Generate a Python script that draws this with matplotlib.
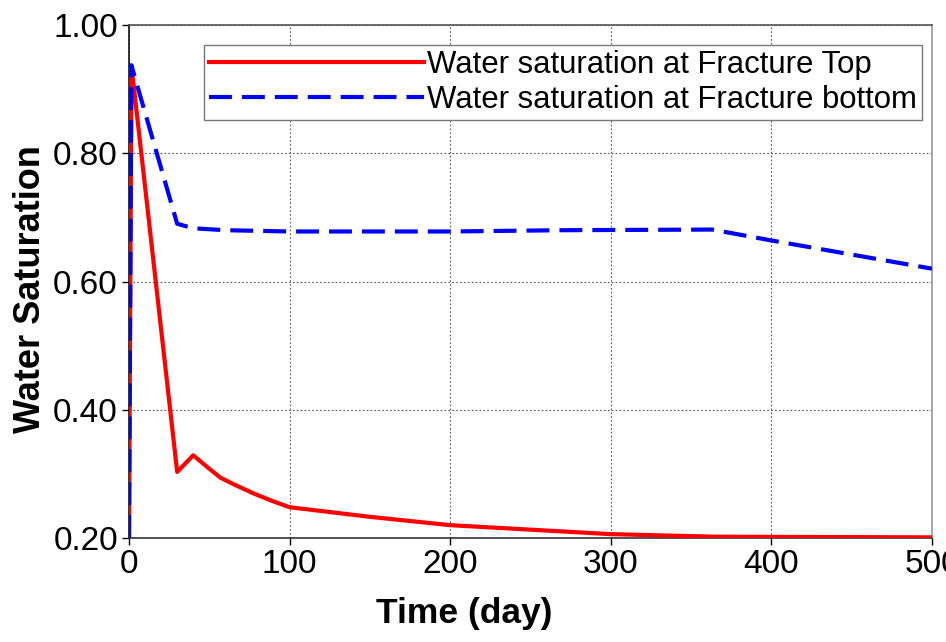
import matplotlib
matplotlib.use('Agg')
import matplotlib.pyplot as plt

# 数据
t_top = [0, 1.5, 30, 40, 50, 57, 65, 78, 90, 100, 150, 200, 300, 365, 500]
sw_top = [0.20, 0.937, 0.303, 0.329, 0.308, 0.294, 0.284, 0.269, 0.257, 0.248,
          0.233, 0.220, 0.206, 0.202, 0.201]

t_bottom = [0, 1.5, 30, 40, 60, 100, 200, 270, 363, 400, 500]
sw_bottom = [0.20, 0.937, 0.690, 0.683, 0.680, 0.678, 0.678, 0.680, 0.681, 0.664, 0.620]

x_ticks = [0, 100, 200, 300, 400, 500]
y_ticks = [0.20, 0.40, 0.60, 0.80, 1.00]

plt.rcParams['font.family'] = ['Liberation Sans', 'DejaVu Sans']

fig = plt.figure(figsize=(9.46, 6.42), dpi=100)
ax = fig.add_axes([129 / 946, 104 / 642, 803 / 946, 513 / 642])

ax.plot(t_top, sw_top, color='#ff0000', lw=3, label='Water saturation at Fracture Top', zorder=3)
ax.plot(t_bottom, sw_bottom, color='#0000ff', lw=3, dashes=(5.5, 2.4),
        label='Water saturation at Fracture bottom', zorder=4)

ax.set_xlim(0, 500)
ax.set_ylim(0.2, 1.0)
ax.set_xticks(x_ticks)
ax.set_yticks(y_ticks)
ax.set_yticklabels(['%.2f' % v for v in y_ticks])
ax.tick_params(direction='out', length=5, width=1, labelsize=24, pad=3)

ax.grid(True, linestyle=(0, (1.5, 2)), color='#555555', lw=0.8)
ax.set_axisbelow(True)

ax.spines['left'].set_color('#111111')
ax.spines['bottom'].set_color('#333333')
ax.spines['top'].set_color('#555555')
ax.spines['right'].set_color('#999999')
for s in ax.spines.values():
    s.set_linewidth(1.2)

ax.set_xlabel('Time (day)', fontsize=25.5, fontweight='bold')
ax.set_ylabel('Water Saturation', fontsize=26, fontweight='bold')
# 标签位置（原图中横轴标签偏左）
ax.xaxis.set_label_coords((464 - 129) / 803, -0.115)
ax.yaxis.set_label_coords(-0.101, 0.486)

leg = ax.legend(loc='upper right', bbox_to_anchor=(0.9875, 0.961), borderaxespad=0,
                fontsize=22.4, handlelength=6.9, handletextpad=0.1, borderpad=0.16,
                labelspacing=0.16, fancybox=False, framealpha=1, edgecolor='#777777')
leg.get_frame().set_linewidth(1)

fig.savefig('out.png', dpi=100)
